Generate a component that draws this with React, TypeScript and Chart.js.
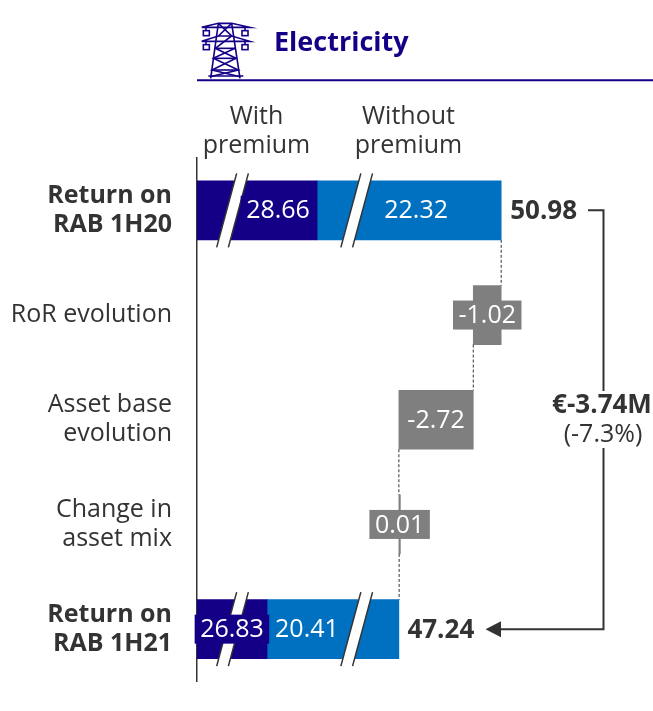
import React, { useEffect, useRef } from "react";
import { Chart, registerables } from "chart.js";

Chart.register(...registerables);

const categories: (string | string[])[] = [
  ["Return on", "RAB 1H20"],
  "RoR evolution",
  ["Asset base", "evolution"],
  ["Change in", "asset mix"],
  ["Return on", "RAB 1H21"],
];
const boldRows = [0, 4];
const withPremium = [28.66, null, null, null, 26.83];
const withoutPremium = [22.32, null, null, null, 20.41];
const deltas = [null, -1.02, -2.72, 0.01, null];
const totals = [50.98, null, null, null, 47.24];
const deltaLabels = ["", "-1.02", "-2.72", "0.01", ""];
// Hidden part of each segment, where the axis is broken
const cutWith = 24.27;
const cutWithout = 15.59;
const axisMax = 16.67;

const DARK = "#140087";
const BLUE = "#0070c0";
const GREY = "#7f7f7f";
const INK = "#333333";
const FONT = '"Open Sans", sans-serif';

const shifted = (v: number | null, cut: number) => (v == null ? null : v - cut);
const cut = cutWith + cutWithout;

// running waterfall [start, end] in axis units
const floats: ([number, number] | null)[] = [];
const levels: number[] = [];
{
  let run = totals[0] as number;
  levels.push(run);
  deltas.forEach((d) => {
    if (d == null) {
      floats.push(null);
      return;
    }
    floats.push([run - cut, run + d - cut]);
    run = Math.round((run + d) * 100) / 100;
    levels.push(run);
  });
}

function line(ctx: CanvasRenderingContext2D, pts: number[][]) {
  ctx.beginPath();
  pts.forEach((p, i) => (i ? ctx.lineTo(p[0], p[1]) : ctx.moveTo(p[0], p[1])));
  ctx.stroke();
}

function drawIcon(ctx: CanvasRenderingContext2D) {
  const p = (x: number, y: number) => [190 + x / 3, 10 + y / 3];
  ctx.save();
  ctx.strokeStyle = DARK;
  ctx.lineWidth = 1.6;
  const segs: number[][][] = [
    [[35, 52], [85, 40], [125, 40], [180, 52], [35, 52]],
    [[35, 94], [85, 78], [125, 78], [180, 94], [35, 94]],
    [[85, 40], [62, 205]],
    [[125, 40], [150, 205]],
    [[85, 40], [125, 78], [76, 115], [138, 145], [66, 180], [150, 200]],
    [[125, 40], [85, 78]],
    [[135, 115], [70, 145], [145, 180], [60, 200]],
    [[76, 115], [135, 115]],
    [[70, 145], [138, 145]],
    [[66, 180], [145, 180]],
    [[55, 198], [160, 198]],
    [[48, 52], [48, 62]],
    [[165, 52], [165, 62]],
    [[48, 94], [48, 104]],
    [[165, 94], [165, 104]],
  ];
  segs.forEach((s) => line(ctx, s.map((q) => p(q[0], q[1]))));
  [[40, 62], [156, 62], [40, 104], [156, 104]].forEach(([x, y]) => {
    const [a, b] = p(x, y);
    ctx.strokeRect(a, b, 6, 5);
  });
  ctx.restore();
}

function drawBreak(ctx: CanvasRenderingContext2D, xTop: number, yTop: number, yBottom: number) {
  const slant = 20;
  const w = 11.7;
  ctx.save();
  ctx.fillStyle = "#ffffff";
  ctx.beginPath();
  ctx.moveTo(xTop, yTop);
  ctx.lineTo(xTop + w, yTop);
  ctx.lineTo(xTop + w - slant, yBottom);
  ctx.lineTo(xTop - slant, yBottom);
  ctx.closePath();
  ctx.fill();
  ctx.strokeStyle = INK;
  ctx.lineWidth = 1.5;
  line(ctx, [[xTop, yTop], [xTop - slant, yBottom]]);
  line(ctx, [[xTop + w, yTop], [xTop + w - slant, yBottom]]);
  ctx.restore();
}

function drawLabel(ctx: CanvasRenderingContext2D, text: string, cx: number, cy: number, bg: string) {
  ctx.save();
  ctx.font = `400 25px ${FONT}`;
  const w = ctx.measureText(text).width + 11;
  ctx.fillStyle = bg;
  ctx.fillRect(cx - w / 2, cy - 14.5, w, 29);
  ctx.fillStyle = "#ffffff";
  ctx.textAlign = "center";
  ctx.textBaseline = "middle";
  ctx.fillText(text, cx, cy + 1);
  ctx.restore();
}

const overlay = {
  id: "overlay",
  afterLayout(chart: any) {
    // the axis runs the full height of the plot
    const y = chart.scales.y;
    const bottom = 681.5;
    y.bottom = bottom;
    y.height = bottom - y.top;
    y.configure();
    chart.chartArea.bottom = bottom;
    chart.chartArea.height = bottom - chart.chartArea.top;
  },
  beforeDraw(chart: any) {
    const ctx: CanvasRenderingContext2D = chart.ctx;
    const area = chart.chartArea;
    ctx.save();
    // header
    drawIcon(ctx);
    ctx.fillStyle = DARK;
    ctx.font = `700 27px ${FONT}`;
    ctx.textAlign = "left";
    ctx.textBaseline = "alphabetic";
    ctx.fillText("Electricity", 274, 51);
    ctx.strokeStyle = DARK;
    ctx.lineWidth = 2;
    line(ctx, [[area.left, 80.3], [area.right, 80.3]]);
    // column heads
    ctx.fillStyle = INK;
    ctx.font = `400 25px ${FONT}`;
    ctx.textAlign = "center";
    ctx.textBaseline = "middle";
    ctx.fillText("With", 256.5, 117);
    ctx.fillText("premium", 256.5, 146);
    ctx.fillText("Without", 408.5, 117);
    ctx.fillText("premium", 408.5, 146);
    ctx.restore();
  },
  afterDatasetsDraw(chart: any) {
    const ctx: CanvasRenderingContext2D = chart.ctx;
    const xs = chart.scales.x;
    const ys = chart.scales.y;
    const half = 29.5;
    const rowY = (i: number) => ys.getPixelForValue(i);

    // dashed connectors between rows
    ctx.save();
    ctx.strokeStyle = INK;
    ctx.lineWidth = 1;
    ctx.setLineDash([3, 2]);
    for (let i = 0; i < categories.length - 1; i++) {
      const x = xs.getPixelForValue(levels[i] - cut);
      line(ctx, [[x, rowY(i) + half], [x, rowY(i + 1) - half]]);
    }
    ctx.restore();

    // axis break marks
    const breakAtWith = xs.getPixelForValue(1.45);
    const breakAtWithout = xs.getPixelForValue(5.99);
    [0, 4].forEach((r) => {
      const y = rowY(r);
      drawBreak(ctx, breakAtWith, y - 37, y + 37);
      drawBreak(ctx, breakAtWithout, y - 37, y + 37);
    });

    // value labels
    const valueShift = [21, 7, 0, -26];
    const bars = [chart.getDatasetMeta(0), chart.getDatasetMeta(1), chart.getDatasetMeta(2)];
    const mid = (el: any) => (el.x + el.base) / 2;
    drawLabel(ctx, String(withPremium[0]), mid(bars[0].data[0]) + valueShift[0], rowY(0), DARK);
    drawLabel(ctx, String(withoutPremium[0]), mid(bars[1].data[0]) + valueShift[1], rowY(0), BLUE);
    drawLabel(ctx, String(withPremium[4]), mid(bars[0].data[4]) + valueShift[2], rowY(4), DARK);
    drawLabel(ctx, String(withoutPremium[4]), mid(bars[1].data[4]) + valueShift[3], rowY(4), BLUE);
    [1, 2, 3].forEach((i) => {
      drawLabel(ctx, deltaLabels[i], mid(bars[2].data[i]), rowY(i), GREY);
    });

    // totals
    ctx.save();
    ctx.fillStyle = INK;
    ctx.font = `700 26px ${FONT}`;
    ctx.textAlign = "left";
    ctx.textBaseline = "middle";
    const x0 = xs.getPixelForValue((totals[0] as number) - cut);
    const x4 = xs.getPixelForValue((totals[4] as number) - cut);
    ctx.fillText((totals[0] as number).toFixed(2), x0 + 9, rowY(0) + 1);
    ctx.fillText((totals[4] as number).toFixed(2), x4 + 8.5, rowY(4) + 1);

    // bracket with arrow
    ctx.strokeStyle = INK;
    ctx.lineWidth = 2;
    const bx = 603.5;
    line(ctx, [[588, rowY(0)], [bx, rowY(0)], [bx, rowY(4)], [500, rowY(4)]]);
    ctx.beginPath();
    ctx.moveTo(485.5, rowY(4));
    ctx.lineTo(501, rowY(4) - 8);
    ctx.lineTo(501, rowY(4) + 8);
    ctx.closePath();
    ctx.fill();

    // difference label
    ctx.fillStyle = "#ffffff";
    ctx.fillRect(550, 391, 103, 57);
    ctx.fillStyle = INK;
    ctx.font = `700 26px ${FONT}`;
    ctx.textAlign = "center";
    ctx.fillText("€-3.74M", 602, 406);
    ctx.font = `400 25px ${FONT}`;
    ctx.fillText("(-7.3%)", 603, 435);
    ctx.restore();
  },
};

export default function App() {
  const ref = useRef<HTMLCanvasElement>(null);
  useEffect(() => {
    const chart = new Chart(ref.current as HTMLCanvasElement, {
      type: "bar",
      data: {
        labels: categories as any,
        datasets: [
          {
            label: "With premium",
            data: withPremium.map((v) => shifted(v, cutWith)) as any,
            backgroundColor: DARK,
          },
          {
            label: "Without premium",
            data: withoutPremium.map((v) => shifted(v, cutWithout)) as any,
            backgroundColor: BLUE,
          },
          {
            label: "Change",
            data: floats as any,
            backgroundColor: GREY,
            minBarLength: 1.5,
          },
        ],
      },
      options: {
        indexAxis: "y",
        responsive: false,
        maintainAspectRatio: false,
        animation: false,
        layout: { autoPadding: false, padding: { top: 158, bottom: 29.5, left: 0, right: 0 } },
        datasets: { bar: { barThickness: 59, borderWidth: 0 } },
        plugins: { legend: { display: false }, tooltip: { enabled: false } },
        scales: {
          x: {
            type: "linear",
            stacked: true,
            display: false,
            min: 0,
            max: axisMax,
          },
          y: {
            type: "category",
            stacked: true,
            grid: { display: false, drawTicks: false },
            border: { display: true, color: INK, width: 1.5 },
            afterFit: (s: any) => {
              s.width = 197;
            },
            ticks: {
              padding: 25,
              color: INK,
              autoSkip: false,
              font: (c: any) => ({
                family: FONT,
                size: 25,
                weight: boldRows.includes(c.index) ? 700 : 400,
                lineHeight: 1.16,
              }),
            },
          },
        },
      } as any,
      plugins: [overlay],
    });
    return () => chart.destroy();
  }, []);
  return (
    <div style={{ position: "absolute", left: 0, top: 0, width: 653, height: 711 }}>
      <canvas ref={ref} width={653} height={711} style={{ display: "block" }} />
    </div>
  );
}
